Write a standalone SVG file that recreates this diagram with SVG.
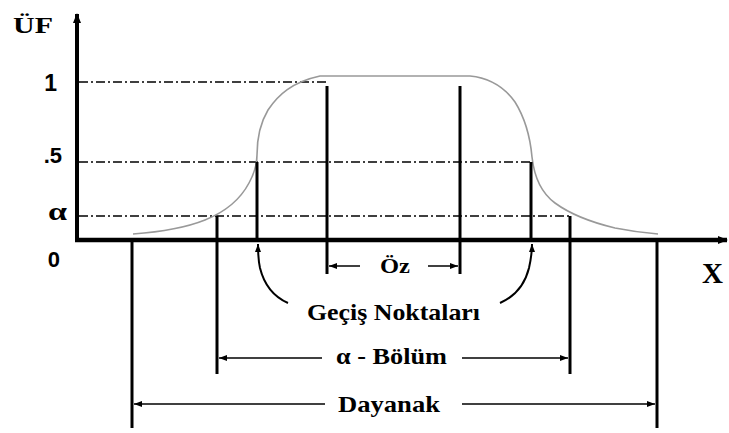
<svg xmlns="http://www.w3.org/2000/svg" width="729" height="433" viewBox="0 0 729 433">
<defs>
<style>
.serif{font-family:"Liberation Serif","Times New Roman",serif;font-weight:bold;fill:#000}
.sans{font-family:"Liberation Sans",Arial,sans-serif;font-weight:bold;fill:#000}
.dd{stroke:#000;stroke-width:1.4;stroke-dasharray:9,3,2,3;fill:none}
.vl{stroke:#000;stroke-width:3;fill:none}
.dim{stroke:#000;stroke-width:1.5;fill:none}
.curve{stroke:#999;stroke-width:1.6;fill:none}
.gec{stroke:#000;stroke-width:2;fill:none}
</style>
<marker id="ah" viewBox="0 0 8 6" refX="8" refY="3" markerWidth="8" markerHeight="6" markerUnits="userSpaceOnUse" orient="auto">
<path d="M0,0 L8,3 L0,6 z" fill="#000"/>
</marker>
<marker id="ahBig" viewBox="0 0 10 8" refX="9" refY="4" markerWidth="10" markerHeight="8" markerUnits="userSpaceOnUse" orient="auto">
<path d="M0,0 L10,4 L0,8 z" fill="#000"/>
</marker>
</defs>
<rect width="729" height="433" fill="#fff"/>

<g id="guides">
<line class="dd" x1="79" y1="82" x2="327" y2="82"/>
<line class="dd" x1="79" y1="162" x2="531" y2="162"/>
<line class="dd" x1="79" y1="216" x2="570" y2="216"/>
</g>

<g id="membership-curve">
<path class="curve" d="M133,234 C160,232 185,228 205,220 C225,212 240,200 249,183 C255,172 257,164 257,155 C257,140 259,125 268,110 C278,95 292,82 320,76 L470,76 C490,78 505,88 515,102 C525,118 530,135 532,157 C534,175 540,192 555,203 C570,214 590,222 615,228 C630,231 645,233 658,234"/>
</g>

<g id="verticals">
<line class="vl" x1="132" y1="240" x2="132" y2="428"/>
<line class="vl" x1="217" y1="216" x2="217" y2="374"/>
<line class="vl" x1="257" y1="162" x2="257" y2="240"/>
<line class="vl" x1="327" y1="86" x2="327" y2="274"/>
<line class="vl" x1="460" y1="86" x2="460" y2="274"/>
<line class="vl" x1="531" y1="162" x2="531" y2="240"/>
<line class="vl" x1="570" y1="216" x2="570" y2="374"/>
<line class="vl" x1="657" y1="240" x2="657" y2="428"/>
</g>

<g id="axes">
<line x1="77" y1="242" x2="77" y2="14" stroke="#000" stroke-width="4" marker-end="url(#ahBig)"/>
<line x1="75" y1="240" x2="727" y2="240" stroke="#000" stroke-width="4.5" marker-end="url(#ahBig)"/>
</g>

<g id="connectors">
<line class="dim" x1="360" y1="266" x2="329" y2="266" marker-end="url(#ah)"/>
<line class="dim" x1="428" y1="266" x2="458" y2="266" marker-end="url(#ah)"/>
<line class="dim" x1="322" y1="358" x2="219" y2="358" marker-end="url(#ah)"/>
<line class="dim" x1="462" y1="358" x2="568" y2="358" marker-end="url(#ah)"/>
<line class="dim" x1="325" y1="404" x2="134" y2="404" marker-end="url(#ah)"/>
<line class="dim" x1="462" y1="404" x2="655" y2="404" marker-end="url(#ah)"/>
<path class="gec" d="M288,303 C272,296 264,284 260,268 C258,259 258,252 258,244" marker-end="url(#ah)"/>
<path class="gec" d="M500,303 C516,296 525,284 529,268 C531,259 532,252 532,244" marker-end="url(#ah)"/>
</g>

<g id="axis-labels">
<text class="serif" x="13" y="33" font-size="24" textLength="40" lengthAdjust="spacingAndGlyphs">ÜF</text>
<text class="sans" x="57" y="91" font-size="23" text-anchor="end">1</text>
<text class="sans" x="62" y="163" font-size="22" text-anchor="end">.5</text>
<text class="serif" x="48" y="220" font-size="26" textLength="19" lengthAdjust="spacingAndGlyphs">α</text>
<text class="sans" x="60" y="267" font-size="22" text-anchor="end">0</text>
<text class="serif" x="702" y="283" font-size="29" textLength="21" lengthAdjust="spacingAndGlyphs">X</text>
</g>

<g id="label-oz"><text class="serif" x="380" y="273" font-size="22" textLength="30" lengthAdjust="spacingAndGlyphs">Öz</text></g>
<g id="label-gecis"><text class="serif" x="307" y="320" font-size="24" textLength="173" lengthAdjust="spacingAndGlyphs">Geçiş Noktaları</text></g>
<g id="label-alpha"><text class="serif" x="336" y="364" font-size="24" textLength="111" lengthAdjust="spacingAndGlyphs">α - Bölüm</text></g>
<g id="label-dayanak"><text class="serif" x="338" y="412" font-size="24" textLength="102" lengthAdjust="spacingAndGlyphs">Dayanak</text></g>
</svg>
